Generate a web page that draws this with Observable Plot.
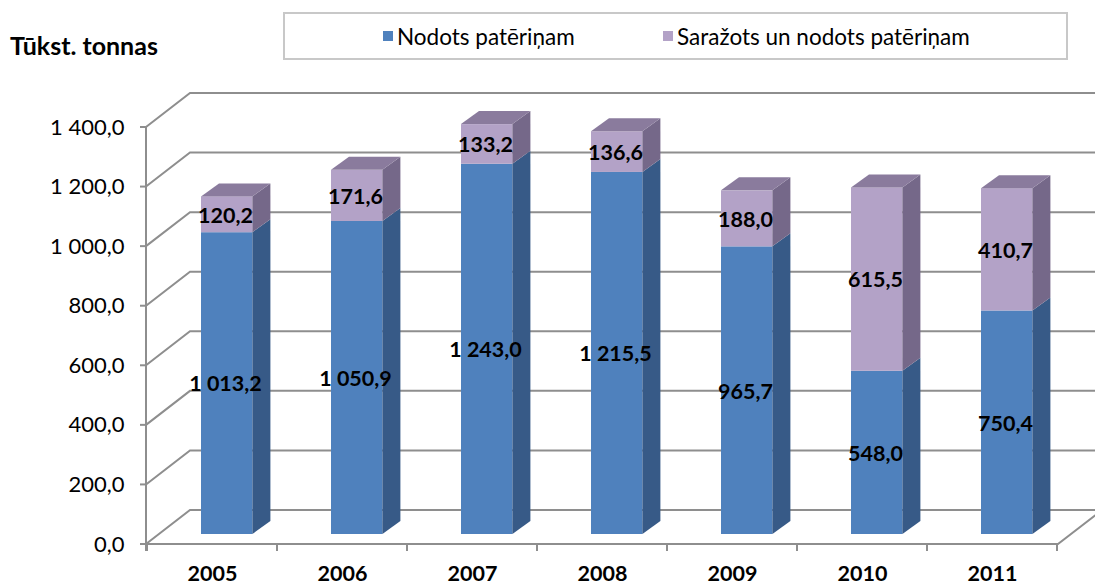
<!DOCTYPE html>
<html>
<head>
<meta charset="utf-8">
<script src="https://cdn.jsdelivr.net/npm/d3@7"></script>
<script src="https://cdn.jsdelivr.net/npm/@observablehq/plot@0.6"></script>
<style>
  html, body { margin: 0; padding: 0; background: #fff; }
  #wrap { position: relative; width: 1095px; height: 585px; font-family: Lato, "Open Sans", sans-serif; color: #000; }
  #title { position: absolute; left: 10px; top: 33px; font-weight: bold; font-size: 25px; line-height: 1; white-space: nowrap; }
  #legend { position: absolute; left: 283px; top: 12px; width: 785px; height: 48px; box-sizing: border-box; border: 2px solid #c8c8c8; background: #fff; }
  .item { position: absolute; top: 0; height: 44px; display: flex; align-items: center; font-size: 22.5px; white-space: nowrap; }
  .sw { width: 10px; height: 10px; margin-right: 4px; display: inline-block; }
  #chart { position: absolute; left: 0; top: 0; }
</style>
</head>
<body>
<div id="wrap">
  <div id="chart"></div>
  <div id="title"></div>
  <div id="legend"></div>
</div>
<script>
// ---- data ----
const years = ["2005", "2006", "2007", "2008", "2009", "2010", "2011"];
const consumed = [1013.2, 1050.9, 1243.0, 1215.5, 965.7, 548.0, 750.4];
const sortedConsumed = [120.2, 171.6, 133.2, 136.6, 188.0, 615.5, 410.7];
const seriesNames = ["Nodots patēriņam", "Saražots un nodots patēriņam"];
const yTicks = [0, 200, 400, 600, 800, 1000, 1200, 1400];
const titleText = "Tūkst. tonnas";

// ---- styles ----
const FRONT = ["#4F81BD", "#B3A2C7"];
const SIDE = ["#375A87", "#756889"];
const TOP = ["#4572A7", "#8A7B9D"];
const GRID = "#8e8e8e";
const WALL = {dx: 44, dy: -34};   // depth of the floor / back wall
const BAR = {dx: 14, dy: -10};    // offset of bar front faces
const DEPTH = {dx: 18, dy: -13};  // bar depth
const INSET_L = 40, INSET_R = 38.6;

const rows = [];
years.forEach((yr, i) => {
  rows.push({year: yr, series: seriesNames[0], s: 0, value: consumed[i]});
  rows.push({year: yr, series: seriesNames[1], s: 1, value: sortedConsumed[i]});
});

const locale = d3.formatLocale({decimal: ",", thousands: " ", grouping: [3], currency: ["", ""]});
const fmt = locale.format(",.1f");

function bandwidthOf(scale, dims) {
  if (typeof scale.bandwidth === "function") return scale.bandwidth();
  if (typeof scale.bandwidth === "number") return scale.bandwidth;
  return (dims.width - dims.marginLeft - dims.marginRight) / years.length;
}

// grid, walls and axis lines
const gridMark = Plot.ruleY(yTicks, {
  y: d => d,
  render(index, scales, values, dims) {
    const g = d3.create("svg:g").attr("fill", "none").attr("stroke", GRID).attr("stroke-width", 2);
    const x0 = dims.marginLeft, x1 = dims.width - dims.marginRight;
    const y0 = scales.y(0), yTop = scales.y(yTicks[yTicks.length - 1]);
    for (const i of index) {
      const y = values.y[i];
      g.append("path").attr("d", `M${x0},${y}L${x0 + WALL.dx},${y + WALL.dy}H${x1 + WALL.dx}`);
      g.append("path").attr("d", `M${x0 - 6},${y}H${x0}`);
    }
    // floor front edge and right edge
    g.append("path").attr("d", `M${x0},${y0}H${x1}L${x1 + WALL.dx},${y0 + WALL.dy}`);
    // front vertical axis
    g.append("path").attr("d", `M${x0},${yTop}V${y0 + 7}`);
    // category boundary ticks
    const bw = bandwidthOf(scales.x, dims);
    const bounds = years.map(yr => scales.x(yr)).concat([scales.x(years[years.length - 1]) + bw]);
    for (const bx of bounds) g.append("path").attr("d", `M${bx},${y0}V${y0 + 7}`);
    return g.node();
  }
});

const barMark = Plot.barY(rows, {
  x: "year", y: "value", fill: d => FRONT[d.s],
  insetLeft: INSET_L, insetRight: INSET_R, dx: BAR.dx, dy: BAR.dy,
  render(index, scales, values, dims, context, next) {
    const g = next(index, scales, values, dims, context);
    const sel = d3.select(g);
    const bw = bandwidthOf(scales.x, dims);
    const last = seriesNames.length - 1;
    for (const i of index) {
      const xl = values.x[i] + INSET_L, xr = values.x[i] + bw - INSET_R;
      const ya = Math.min(values.y1[i], values.y2[i]), yb = Math.max(values.y1[i], values.y2[i]);
      const s = rows[i].s;
      sel.append("path").attr("fill", SIDE[s])
        .attr("d", `M${xr},${ya}L${xr + DEPTH.dx},${ya + DEPTH.dy}L${xr + DEPTH.dx},${yb + DEPTH.dy}L${xr},${yb}Z`);
      if (s === last) {
        sel.append("path").attr("fill", TOP[s])
          .attr("d", `M${xl},${ya}L${xl + DEPTH.dx},${ya + DEPTH.dy}L${xr + DEPTH.dx},${ya + DEPTH.dy}L${xr},${ya}Z`);
      }
    }
    return g;
  }
});

const chart = Plot.plot({
  width: 1095,
  height: 585,
  marginLeft: 146,
  marginRight: 37,
  marginTop: 127,
  marginBottom: 41,
  style: {fontFamily: "Lato, 'Open Sans', sans-serif", background: "transparent", color: "#000", overflow: "hidden"},
  x: {type: "band", domain: years, padding: 0},
  y: {domain: [0, 1400]},
  marks: [
    gridMark,
    barMark,
    Plot.text(rows, Plot.stackY({
      x: "year", y: "value", text: d => fmt(d.value),
      dx: BAR.dx - 1, dy: BAR.dy + 1,
      fontSize: 21.5, fontWeight: "bold", fill: "#000"
    })),
    Plot.axisY({ticks: yTicks, tickFormat: fmt, tickSize: 0, tickPadding: 22, fontSize: 22, label: null}),
    Plot.axisX({tickSize: 0, tickPadding: 21, fontSize: 21.5, fontWeight: "bold", label: null})
  ]
});
document.getElementById("chart").appendChild(chart);

// title
document.getElementById("title").textContent = titleText;

// legend
const legend = document.getElementById("legend");
const legendX = [98, 378];
seriesNames.forEach((name, i) => {
  const item = document.createElement("div");
  item.className = "item";
  item.style.left = legendX[i] + "px";
  const sw = document.createElement("span");
  sw.className = "sw";
  sw.style.background = FRONT[i];
  const label = document.createElement("span");
  label.textContent = name;
  item.appendChild(sw);
  item.appendChild(label);
  legend.appendChild(item);
});
</script>
</body>
</html>
